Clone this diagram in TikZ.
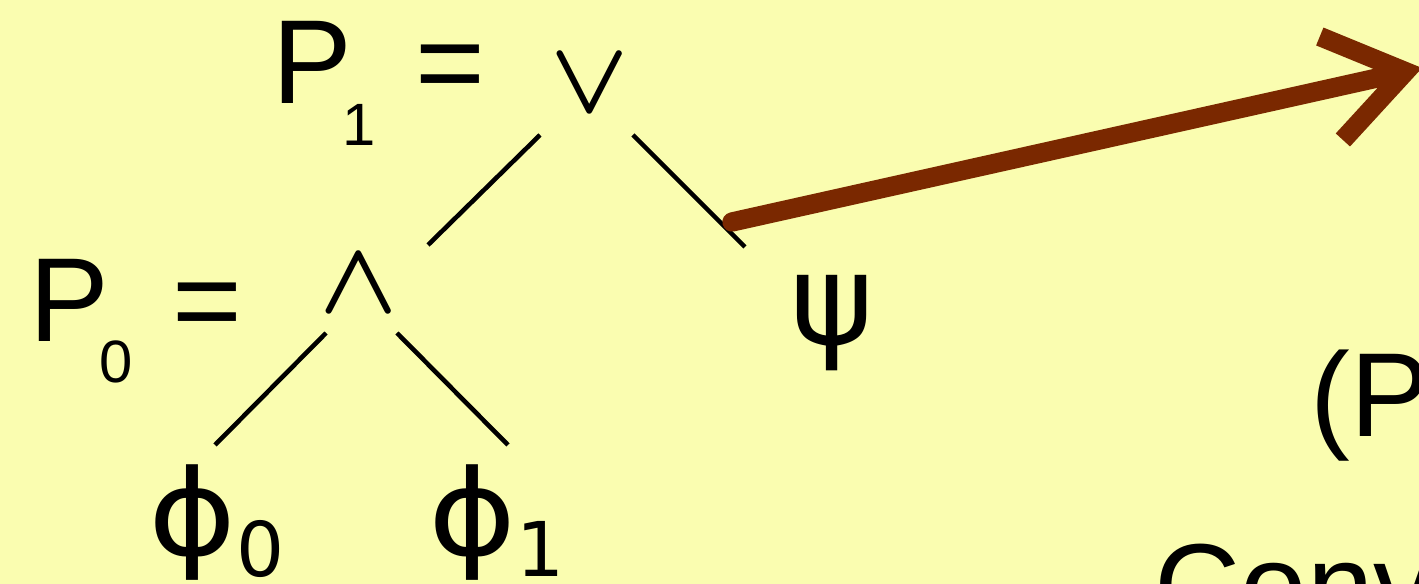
\documentclass[tikz,border=0pt]{standalone}
\usepackage{graphicx}
\usepackage{fontspec}
\setmainfont{Liberation Sans}
\newfontfamily\symfont{DejaVu Sans}
\usetikzlibrary{arrows.meta, calc}
\definecolor{slidebg}{RGB}{250,253,176}
\definecolor{chalkbrown}{RGB}{122,40,0}
\newcommand{\bigtext}{\fontsize{34}{40}\selectfont}
\newcommand{\subtext}{\fontsize{17}{20}\selectfont}
\newcommand{\leafsym}{\scalebox{1.12}[1]{ϕ}}
\newcommand{\leafsub}[1]{\raisebox{-0.21cm}{\fontsize{21.5}{24}\selectfont #1}}
\newcommand{\bigop}[1]{\scalebox{1.17}{\boldmath$#1$}}

\begin{document}
\begin{tikzpicture}[
    formula/.style={inner sep=0pt, anchor=base, font=\bigtext},
    subformula/.style={inner sep=0pt, anchor=base, font=\subtext},
    connective/.style={inner sep=0pt, anchor=base, font=\fontsize{24.88}{30}\selectfont},
    leaf/.style={inner sep=0pt, anchor=base west, font=\symfont\fontsize{34}{40}\selectfont},
    edge/.style={line width=1.3pt},
    chalk/.style={-{Straight Barb[length=7.6mm, width=10.6mm, line width=5.5pt]}, line width=5.5pt, chalkbrown, line cap=round}
]
\fill[slidebg] (0,0) rectangle (14.19,-5.84);
\useasboundingbox (0,0) rectangle (14.19,-5.84);

% Top formula
\node[formula] (p1) at (3.12,-1.04) {P};
\node[subformula] (p1sub) at (3.59,-1.46) {1};
\node[formula] (eq1) at (4.50,-1.04) {=};
\node[connective] (or) at (5.895,-1.13) {\bigop{\vee}};

% Left subformula
\node[formula] (p0) at (0.69,-3.42) {P};
\node[subformula] (p0sub) at (1.16,-3.83) {0};
\node[formula] (eq0) at (2.07,-3.42) {=};
\node[connective] (and) at (3.585,-3.13) {\bigop{\wedge}};

% Leaves
\node[leaf, anchor=base, font=\symfont\fontsize{36}{42}\selectfont] (psi) at (8.32,-3.45) {ψ};
\node[leaf] (phi0) at (1.48,-5.56) {\leafsym\leafsub{0}};
\node[leaf] (phi1) at (4.28,-5.56) {\leafsym\leafsub{1}};

% Text cut off at the right
\node[formula, anchor=base west] (note) at (13.10,-4.37) {(P\raisebox{-0.41cm}{\subtext 1}};
\node[formula, anchor=base west] (conv) at (11.54,-6.28) {Conv};

% Ports of the edges
\coordinate (or-l) at (5.40,-1.35);
\coordinate (or-r) at (6.33,-1.35);
\coordinate (and-t) at (4.28,-2.45);
\coordinate (psi-t) at (7.45,-2.47);
\coordinate (and-l) at (3.26,-3.33);
\coordinate (and-r) at (3.97,-3.33);
\coordinate (phi0-t) at (2.15,-4.45);
\coordinate (phi1-t) at (5.08,-4.45);

\draw[edge] (or-l) -- (and-t);
\draw[edge] (or-r) -- (psi-t);
\draw[edge] (and-l) -- (phi0-t);
\draw[edge] (and-r) -- (phi1-t);

% Chalk arrow
\coordinate (chalk-start) at (7.32,-2.22);
\coordinate (chalk-tip) at (14.22,-0.68);
\draw[chalk] (chalk-start) -- (chalk-tip);
\end{tikzpicture}
\end{document}
